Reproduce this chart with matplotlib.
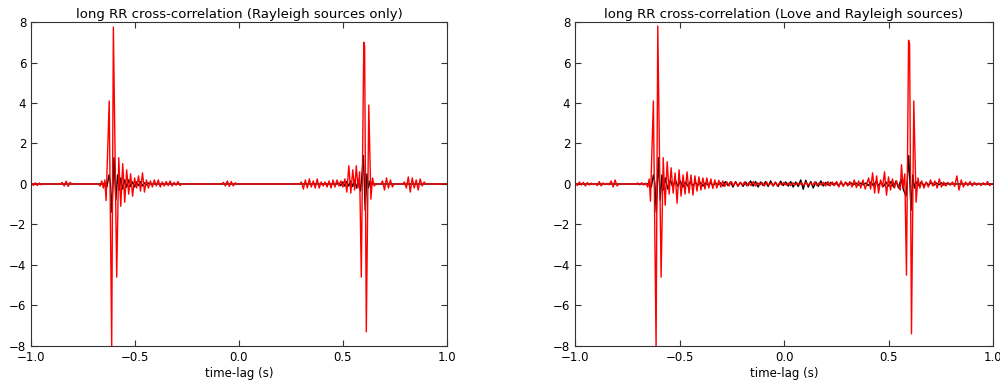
import numpy as np
import matplotlib
matplotlib.use("Agg")
import matplotlib.pyplot as plt

# each piece: (start lag, step, extremum values) or (list of lags, values)

# --- Rayleigh sources only ---
ray_red = [
    (-0.998, 0.0095, [0.05, -0.07, 0.06, -0.08, 0.05, -0.04]),
    (-0.850, 0.0095, [0.08, -0.1, 0.14, -0.12, 0.08]),
    ([-0.668, -0.660, -0.652, -0.645, -0.639, -0.624, -0.612, -0.604, -0.588],
     [-0.1, 0.15, -0.2, 0.2, -0.82, 4.1, -8.1, 7.75, -4.6]),
    (-0.578, 0.0095, [1.3, -1.1, 1.0, -0.9, 0.7, -0.5, 0.5, -0.6, 0.3, -0.2, 0.4,
                      -0.35, 0.55, -0.4, 0.2, -0.2, 0.15, -0.15, 0.2, -0.1, 0.2,
                      -0.15, 0.1, -0.1, 0.12, -0.08, 0.15, -0.1, 0.08, -0.06,
                      0.12, -0.08]),
    (-0.075, 0.0095, [0.08, -0.1, 0.15, -0.12, 0.12, -0.1, 0.06]),
    (0.300, 0.0095, [0.1, -0.25, 0.2, -0.2, 0.25, -0.15, 0.15, -0.2, 0.25, -0.2,
                     0.1, -0.1, 0.1, -0.15, 0.15, -0.2, 0.2, -0.15, 0.2, -0.1,
                     0.15, -0.15, 0.25, -0.4, 0.9, -0.45, 0.7]),
    ([0.556, 0.564, 0.572, 0.580, 0.588, 0.600, 0.604, 0.612, 0.624, 0.634, 0.642, 0.650],
     [-0.3, 0.9, -0.2, 0.6, -4.6, 7.0, 6.8, -7.3, 3.9, -0.75, 0.3, -0.1]),
    (0.690, 0.0095, [0.15, -0.3, 0.3, -0.2, 0.2, -0.15]),
    (0.795, 0.0095, [0.1, -0.2, 0.35, -0.4, 0.3, -0.2, 0.2, -0.3, 0.25, -0.1, 0.1]),
]

ray_black = [
    ([-0.645, -0.635, -0.625, -0.618, -0.611, -0.601, -0.592, -0.584, -0.576, -0.568],
     [0.05, -0.15, 0.45, 0.05, -1.4, 1.3, -0.8, 0.45, -0.3, 0.3]),
    (-0.559, 0.0095, [-0.25, 0.2, -0.15, 0.2, -0.12, 0.1, -0.15, 0.1, -0.08, 0.12,
                      -0.1, 0.06, -0.05, 0.05]),
    (0.480, 0.0095, [0.05, -0.08, 0.1, -0.1, 0.12, -0.1, 0.15, -0.12, 0.2, -0.2]),
    ([0.575, 0.584, 0.590, 0.598, 0.607, 0.615, 0.622, 0.630],
     [0.2, -0.35, 0.3, 1.4, -1.3, 0.5, -0.2, 0.15]),
]

# --- Love and Rayleigh sources ---
both_red = [
    (-0.998, 0.0095, [0.06, -0.08, 0.1, -0.05, 0.08, -0.1, 0.07, -0.05, 0.04, -0.03,
                      0.02, -0.08, 0.12, -0.1, 0.05, -0.03, 0.03, -0.04, 0.15,
                      -0.15, 0.2, -0.1]),
    (-0.700, 0.0095, [0.05, -0.04, 0.06, -0.05, 0.04]),
    ([-0.652, -0.645, -0.639, -0.625, -0.612, -0.604, -0.588],
     [-0.15, 0.25, -0.85, 4.1, -8.1, 7.8, -4.6]),
    (-0.578, 0.0095, [1.3, -1.05, 1.1, -0.5, 0.8, -0.45, 0.55, -0.95, 0.7, -0.6,
                      0.45, -0.5, 0.6, -0.45, 0.45, -0.55, 0.4, -0.35, 0.35, -0.3,
                      0.3, -0.25, 0.3, -0.2, 0.25, -0.22, 0.2, -0.2, 0.18, -0.15,
                      0.15, -0.12]),
    (-0.273, 0.0105, [0.1, -0.1, 0.12, -0.08, 0.1, -0.12, 0.08, -0.06, 0.1, -0.1,
                      0.08, -0.08, 0.12, -0.1, 0.06, -0.05,
                      0.08, -0.1, 0.1, -0.06, 0.05, -0.08, 0.1, -0.1, 0.06, -0.05,
                      0.08, -0.06, 0.05, -0.08, 0.06, -0.05,
                      0.05, -0.04, 0.06, -0.08, 0.08, -0.06, 0.05, -0.06, 0.1, -0.08,
                      0.06, -0.05, 0.08, -0.1, 0.12, -0.1,
                      0.1, -0.08, 0.12, -0.15, 0.15, -0.12, 0.1, -0.1, 0.12, -0.15,
                      0.2, -0.18, 0.15, -0.2, 0.2, -0.25]),
    (0.405, 0.0095, [0.3, -0.25, 0.55, -0.45, 0.4, -0.45, 0.2, -0.15, 0.6, -0.55,
                     0.35, -0.3, 0.25, -0.2, 0.15, -0.1]),
    ([0.556, 0.562, 0.570, 0.578, 0.586, 0.596, 0.601, 0.610, 0.621, 0.632, 0.641, 0.650],
     [-0.3, 0.95, -0.2, 0.5, -4.5, 7.1, 6.9, -7.4, 4.1, -0.9, 0.3, -0.2]),
    (0.659, 0.0105, [0.15, -0.2, 0.1, -0.15, 0.2, -0.1, 0.15, -0.2, 0.25, -0.15,
                     0.1, -0.1, 0.08, -0.06, 0.1, -0.12, 0.4, -0.3, 0.2, -0.15,
                     0.1, -0.08, 0.12, -0.1, 0.08, -0.06, 0.05, -0.08, 0.06, -0.05,
                     0.12, -0.08]),
]

both_black = [
    ([-0.645, -0.635, -0.625, -0.618, -0.611, -0.601, -0.592, -0.584, -0.576, -0.568],
     [0.05, -0.15, 0.45, 0.05, -1.4, 1.3, -0.8, 0.45, -0.3, 0.3]),
    (-0.556, 0.012, [-0.25, 0.2, -0.15, 0.2, -0.12, 0.15, -0.15, 0.1, -0.1, 0.12,
                     -0.1, 0.08, -0.06, 0.08, -0.1, 0.06,
                     -0.05, 0.06, -0.08, 0.05, -0.04, 0.06, -0.1, 0.12, -0.08, 0.1,
                     -0.15, 0.12, -0.1, 0.08, -0.12, 0.1,
                     -0.08, 0.15, -0.1, 0.12, -0.15, 0.1, -0.08, 0.12, -0.12, 0.15,
                     -0.1, 0.08, -0.12, 0.14, -0.08, 0.1,
                     -0.1, 0.12, -0.15, 0.1, -0.12, 0.2, -0.26, 0.18, -0.15, 0.12,
                     -0.2, 0.1, -0.12, 0.15, -0.1, 0.08,
                     -0.06, 0.08, -0.05, 0.06, -0.08, 0.05, -0.06, 0.07, -0.05, 0.06,
                     -0.04, 0.05, -0.06, 0.05, -0.04, 0.05,
                     -0.08, 0.1, -0.1, 0.12, -0.08, 0.1, -0.12, 0.1, -0.1, 0.12,
                     -0.15, 0.15, -0.2, 0.25, -0.3]),
    ([0.584, 0.590, 0.597, 0.608, 0.616, 0.624, 0.632],
     [-0.6, 0.2, 1.4, -1.3, 0.45, -0.2, 0.1]),
    (0.645, 0.012, [-0.08, 0.1, -0.08, 0.06, -0.05, 0.08, -0.06, 0.05, -0.04, 0.06,
                    -0.05, 0.04]),
]

titles = ["long RR cross-correlation (Rayleigh sources only)",
          "long RR cross-correlation (Love and Rayleigh sources)"]


def build(pieces):
    lag = [-1.0]
    val = [0.0]
    for p in pieces:
        if isinstance(p[0], list):
            t = list(p[0])
            v = list(p[1])
        else:
            t0, dt, v = p
            t = [t0 + i * dt for i in range(len(v))]
        if t[0] - lag[-1] > 0.025:
            lag.append(lag[-1] + 0.008)
            val.append(0.0)
            lag.append(t[0] - 0.008)
            val.append(0.0)
        lag += t
        val += v
    lag += [lag[-1] + 0.008, 1.0]
    val += [0.0, 0.0]
    return np.array(lag), np.array(val)


plt.rcParams['font.family'] = 'DejaVu Sans'
fig = plt.figure(figsize=(10, 3.84), dpi=100)
ax1 = fig.add_axes([0.031, 0.099, 0.416, 0.8437])
ax2 = fig.add_axes([0.575, 0.099, 0.418, 0.8437])

for ax, blk, red, title in [(ax1, ray_black, ray_red, titles[0]),
                            (ax2, both_black, both_red, titles[1])]:
    x, y = build(blk)
    ax.plot(x, y, color='k', lw=1.0)
    x, y = build(red)
    ax.plot(x, y, color='r', lw=1.0)
    ax.set_xlim(-1, 1)
    ax.set_ylim(-8, 8)
    ax.set_xticks([-1.0, -0.5, 0.0, 0.5, 1.0])
    ax.set_yticks([-8, -6, -4, -2, 0, 2, 4, 6, 8])
    ax.tick_params(direction='in', top=True, right=True, length=4,
                   labelsize=8.5, color='#333333')
    for s in ax.spines.values():
        s.set_color('#333333')
    ax.set_title(title, fontsize=9.5, pad=3)
    ax.set_xlabel("time-lag (s)", fontsize=8.5, labelpad=2)

fig.savefig("out.png", dpi=100)
